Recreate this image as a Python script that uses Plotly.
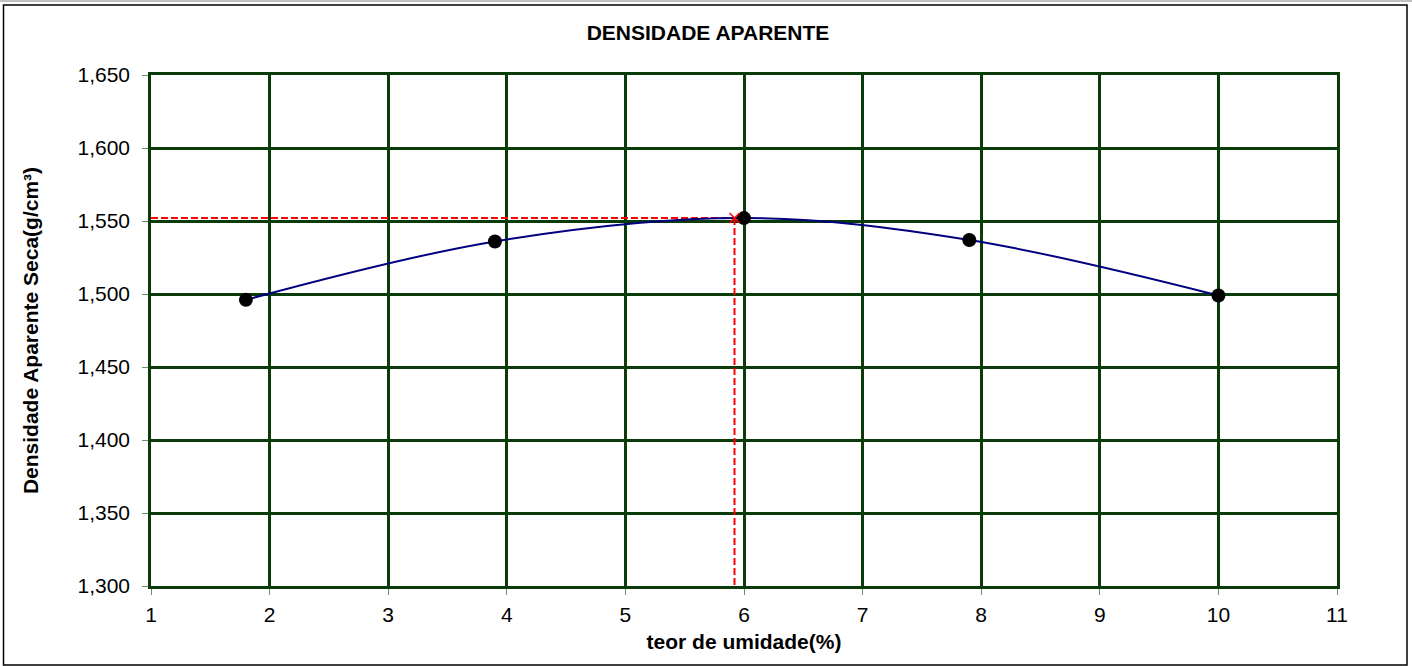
import plotly.graph_objects as go

# Data
umidade = [1.8, 3.9, 6.0, 7.9, 10.0]
densidade = [1.496, 1.536, 1.552, 1.537, 1.499]
umidade_otima = 5.92
densidade_max = 1.552
x_min, x_max = 1, 11
y_min, y_max = 1.300, 1.650

W, H = 1412, 666
L, R, T, B = 151, 75, 75, 80
pw, ph = W - L - R, H - T - B

def px_x(p):
    return (p - L) / pw

def px_y(p):
    return (H - B - p) / ph

font = "Liberation Sans, Arial, sans-serif"
grid = "#0b3a0b"
fs = 21

fig = go.Figure()

# optimum guide lines
fig.add_trace(go.Scatter(x=[x_min, umidade_otima], y=[densidade_max, densidade_max],
                         mode="lines", line=dict(color="#ff0000", width=2, dash="7px,3px"),
                         hoverinfo="skip", showlegend=False, cliponaxis=False))
fig.add_trace(go.Scatter(x=[umidade_otima, umidade_otima], y=[densidade_max, y_min],
                         mode="lines", line=dict(color="#ff0000", width=2, dash="7px,3px"),
                         hoverinfo="skip", showlegend=False, cliponaxis=False))

# curve
fig.add_trace(go.Scatter(x=umidade, y=densidade, mode="lines",
                         line=dict(color="#000080", width=2, shape="spline", smoothing=1.0),
                         showlegend=False, hoverinfo="skip"))
# points
fig.add_trace(go.Scatter(x=umidade, y=densidade, mode="markers",
                         marker=dict(color="#000000", size=14),
                         showlegend=False))
# optimum marker
fig.add_trace(go.Scatter(x=[umidade_otima], y=[densidade_max], mode="markers",
                         marker=dict(symbol="x-thin", color="#ff0000", size=10,
                                     line=dict(color="#ff0000", width=1.5)),
                         showlegend=False))

fig.update_layout(
    width=W, height=H,
    margin=dict(l=L, r=R, t=T, b=B),
    paper_bgcolor="white", plot_bgcolor="white",
    separators=",.",
    font=dict(family=font, color="black", size=fs),
    title=dict(text="<b>DENSIDADE APARENTE</b>", x=px_x(708), xref="paper", xanchor="center",
               y=1 - 33 / H, yref="container", yanchor="middle",
               font=dict(family=font, size=fs, color="black")),
    xaxis=dict(range=[x_min, x_max], dtick=1, tick0=1, showgrid=True, gridcolor=grid, gridwidth=2.5,
               zeroline=False, showline=True, linecolor=grid, linewidth=2.5, mirror=True,
               ticks="outside", ticklen=6, tickcolor="#6b8f6b", tickwidth=1,
               ticklabelstandoff=2,
               tickfont=dict(family=font, size=fs, color="black"),
               title=dict(text="<b>teor de umidade(%)</b>", standoff=10,
                          font=dict(family=font, size=fs, color="black"))),
    yaxis=dict(range=[y_min, y_max], dtick=0.05, tick0=1.3, tickformat=".3f",
               showgrid=True, gridcolor=grid, gridwidth=2.5,
               zeroline=False, showline=True, linecolor=grid, linewidth=2.5, mirror=True,
               ticks="outside", ticklen=6, tickcolor="#6b8f6b", tickwidth=1,
               ticklabelstandoff=8,
               tickfont=dict(family=font, size=fs, color="black"),
               title=dict(text="<b>Densidade Aparente Seca(g/cm³)</b>", standoff=34,
                          font=dict(family=font, size=fs, color="black"))),
    shapes=[
        dict(type="rect", xref="paper", yref="paper",
             x0=px_x(3.5), x1=px_x(1407), y0=px_y(665), y1=px_y(5),
             line=dict(color="black", width=1.5), fillcolor="rgba(0,0,0,0)", layer="below"),
        dict(type="line", xref="paper", yref="paper",
             x0=px_x(0), x1=px_x(1412), y0=px_y(1), y1=px_y(1),
             line=dict(color="#c0c0c0", width=2)),
    ],
)

fig.write_html("out.html", config={"displayModeBar": False},
               post_script="document.body.style.margin='0';document.body.style.overflow='hidden';")
